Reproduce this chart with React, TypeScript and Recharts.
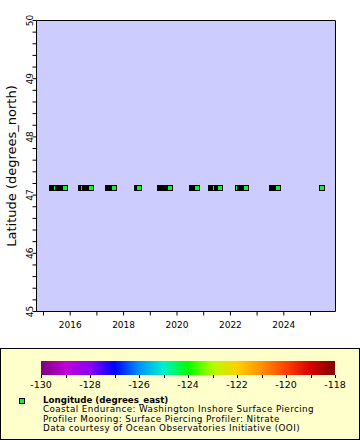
import React from 'react';
import { ScatterChart, Scatter, XAxis, YAxis, CartesianGrid, ReferenceArea } from 'recharts';

// time as decimal year, one entry per profile
const times = [
  2015.318, 2015.356, 2015.393, 2015.431, 2015.468, 2015.543, 2015.581, 2015.618, 2015.655, 2015.693, 2015.730, 2015.768, 2015.805,
  2016.404, 2016.442, 2016.479, 2016.554, 2016.592, 2016.629, 2016.667, 2016.704, 2016.742, 2016.779,
  2017.416, 2017.453, 2017.491, 2017.528, 2017.566, 2017.603, 2017.640,
  2018.502, 2018.539, 2018.577,
  2019.363, 2019.401, 2019.438, 2019.476, 2019.513, 2019.551, 2019.588, 2019.625, 2019.663, 2019.700, 2019.738,
  2020.562, 2020.599, 2020.637, 2020.674, 2020.712, 2020.749,
  2021.273, 2021.311, 2021.348, 2021.386, 2021.423, 2021.498, 2021.536, 2021.573, 2021.610,
  2022.285, 2022.360, 2022.397, 2022.434, 2022.472, 2022.509, 2022.547, 2022.584,
  2023.558, 2023.596, 2023.633, 2023.670, 2023.708, 2023.745, 2023.783,
  2025.431,
];
const latitude = 47.12;
const longitude = -124.27;

const yearTicks = [2015, 2016, 2017, 2018, 2019, 2020, 2021, 2022, 2023, 2024, 2025];
const latTicks = [
  45, 45.2, 45.4, 45.6, 45.8, 46, 46.2, 46.4, 46.6, 46.8, 47, 47.2, 47.4, 47.6, 47.8,
  48, 48.2, 48.4, 48.6, 48.8, 49, 49.2, 49.4, 49.6, 49.8, 50,
];
const colorTicks = [-130, -129, -128, -127, -126, -125, -124, -123, -122, -121, -120, -119, -118];
const rainbow = [
  '#7a0080', '#c000d8', '#8c00f4', '#0000ff', '#0090ff', '#00f0d0', '#00ff00',
  '#b0ff00', '#ffd000', '#ff9000', '#ff4000', '#d80000', '#800000',
];
const legendLines = [
  'Coastal Endurance: Washington Inshore Surface Piercing',
  'Profiler Mooring: Surface Piercing Profiler: Nitrate',
  'Data courtesy of Ocean Observatories Initiative (OOI)',
];

const timeDomain = [2014.7378, 2025.9363];
const markerColor = '#11ee33';
const font = '"DejaVu Sans", sans-serif';

const points = times.map(t => ({ time: t, lat: latitude, lon: longitude }));

const Marker = (props: any) => {
  const { cx, cy } = props;
  if (cx == null || cy == null) return null;
  return (
    <rect
      x={Math.round(cx) - 2.5}
      y={Math.round(cy) - 2.5}
      width={5}
      height={5}
      fill={markerColor}
      stroke="#000"
      strokeWidth={1}
      shapeRendering="crispEdges"
    />
  );
};

const XTick = (props: any) => {
  const { x, y, payload } = props;
  if (payload.value % 2 !== 0) return null;
  return (
    <text x={x} y={y + 10.5} textAnchor="middle" fontSize={9} fontFamily={font} fill="#000">
      {payload.value}
    </text>
  );
};

const YTick = (props: any) => {
  const { x, y, payload } = props;
  const v = payload.value;
  if (Math.abs(v - Math.round(v)) > 1e-6) return null;
  const bx = x + 2.5;
  return (
    <text
      x={bx}
      y={y}
      transform={`rotate(-90 ${bx} ${y})`}
      textAnchor="middle"
      fontSize={9}
      fontFamily={font}
      fill="#000"
    >
      {Math.round(v)}
    </text>
  );
};

const YTitle = (props: any) => {
  const { viewBox } = props;
  const x = viewBox.x + 16;
  const y = viewBox.y + viewBox.height / 2;
  return (
    <text x={x} y={y} transform={`rotate(-90 ${x} ${y})`} textAnchor="middle" fontSize={13} fontFamily={font} fill="#000">
      Latitude (degrees_north)
    </text>
  );
};

const ColorLegend = () => {
  const barX = 41;
  const barW = 294;
  const cx = (v: number) => barX + ((v - colorTicks[0]) / (colorTicks[colorTicks.length - 1] - colorTicks[0])) * barW;
  return (
    <svg width={360} height={92} style={{ position: 'absolute', left: 0, top: 0 }}>
      <defs>
        <linearGradient id="rainbow" x1="0" y1="0" x2="1" y2="0">
          {rainbow.map((c, i) => (
            <stop key={i} offset={i / (rainbow.length - 1)} stopColor={c} />
          ))}
        </linearGradient>
      </defs>
      <rect x={barX} y={13} width={barW} height={14} fill="url(#rainbow)" />
      {colorTicks.map(v => (
        <line key={v} x1={Math.round(cx(v)) + 0.5} x2={Math.round(cx(v)) + 0.5} y1={27} y2={30} stroke="#000" />
      ))}
      {colorTicks.filter(v => v % 2 === 0).map(v => (
        <text key={v} x={cx(v)} y={40} textAnchor="middle" fontSize={9.5} fontFamily={font} fill="#000">
          {v}
        </text>
      ))}
      <rect x={19.5} y={50.5} width={5} height={5} fill={markerColor} stroke="#000" shapeRendering="crispEdges" />
      <text x={43} y={55} fontSize={8.7} fontWeight="bold" fontFamily={font} fill="#000">
        Longitude (degrees_east)
      </text>
      {legendLines.map((line, i) => (
        <text key={i} x={43} y={64.3 + i * 9.3} fontSize={8.8} letterSpacing={0.4} fontFamily={font} fill="#000">
          {line}
        </text>
      ))}
    </svg>
  );
};

export default function App() {
  return (
    <div style={{ position: 'absolute', left: 0, top: 0, width: 360, height: 440, background: '#fff', fontFamily: font }}>
      <ScatterChart width={360} height={348} margin={{ top: 20.5, right: 24.5, bottom: 6.5, left: 0 }}>
        <CartesianGrid fill="#ccccff" fillOpacity={1} horizontal={false} vertical={false} />
        <XAxis
          type="number"
          dataKey="time"
          domain={timeDomain}
          ticks={yearTicks}
          interval={0}
          allowDataOverflow
          axisLine={false}
          tickLine={{ stroke: '#000' }}
          tickSize={4}
          height={30}
          tick={XTick}
        />
        <YAxis
          type="number"
          dataKey="lat"
          domain={[45, 50]}
          ticks={latTicks}
          interval={0}
          allowDataOverflow
          axisLine={false}
          tickLine={{ stroke: '#000' }}
          tickSize={4}
          width={36.5}
          tick={YTick}
          label={YTitle}
        />
        <ReferenceArea
          x1={timeDomain[0]}
          x2={timeDomain[1]}
          y1={45}
          y2={50}
          fill="none"
          stroke="#000"
          strokeWidth={1}
          ifOverflow="visible"
        />
        <Scatter data={points} shape={Marker} isAnimationActive={false} />
      </ScatterChart>
      <div
        style={{
          position: 'absolute',
          left: 0,
          top: 348,
          width: 360,
          height: 92,
          boxSizing: 'border-box',
          border: '1px solid #000',
          background: '#ffffcc',
        }}
      >
        <div style={{ position: 'absolute', left: -1, top: -1 }}>
          <ColorLegend />
        </div>
      </div>
    </div>
  );
}
